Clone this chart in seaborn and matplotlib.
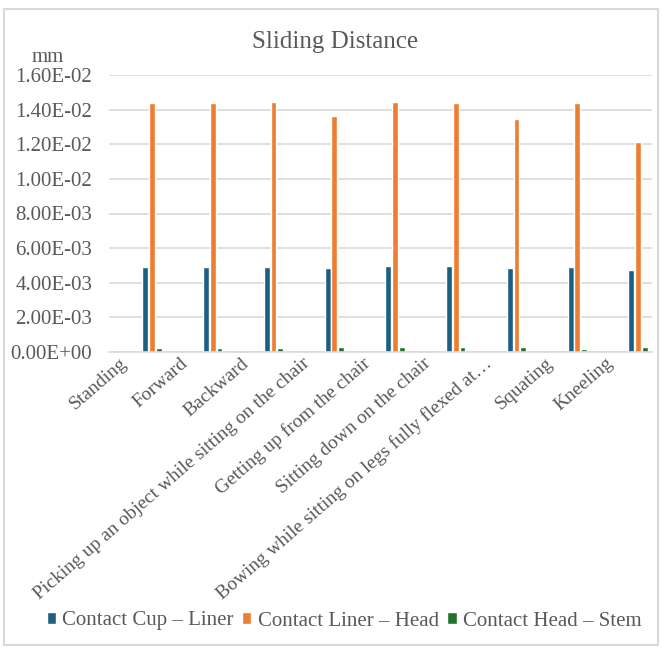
import matplotlib
matplotlib.use("Agg")
import matplotlib.pyplot as plt
import matplotlib.transforms as mtransforms
from matplotlib.patches import Rectangle
from matplotlib.ticker import FuncFormatter, MultipleLocator
import numpy as np
import pandas as pd
import seaborn as sns

# Activities (x categories)
activities = [
    "Standing",
    "Forward",
    "Backward",
    "Picking up an object while sitting on the chair",
    "Getting up from the chair",
    "Sitting down on the chair",
    "Bowing while sitting on legs fully flexed at\u2026",
    "Squating",
    "Kneeling",
]

# Sliding distance per contact pair (mm)
cup_liner = [0.00491, 0.00491, 0.00491, 0.00483, 0.00499, 0.00499, 0.00483, 0.00491, 0.00472]
liner_head = [0.01440, 0.01438, 0.01444, 0.01365, 0.01444, 0.01438, 0.01344, 0.01438, 0.01211]
head_stem = [0.00023, 0.00023, 0.00023, 0.00028, 0.00028, 0.00028, 0.00028, 0.00020, 0.00028]

series_names = ["Contact Cup \u2013 Liner", "Contact Liner \u2013 Head", "Contact Head \u2013 Stem"]
series_colors = ["#1c5f83", "#ed7d31", "#23732f"]

df = pd.DataFrame({
    "Activity": activities * 3,
    "Contact": np.repeat(series_names, len(activities)),
    "Distance": cup_liner + liner_head + head_stem,
})

sns.set_theme(style="white")
plt.rcParams["font.family"] = ["Liberation Serif", "DejaVu Serif"]
text_color = "#595959"
grid_color = "#d9d9d9"

W, H = 662, 648
fig = plt.figure(figsize=(W / 100, H / 100), dpi=100)
ax = fig.add_axes([109 / W, 1 - 352 / H, (652 - 109) / W, (352 - 75) / H])

sns.barplot(
    data=df, x="Activity", y="Distance", hue="Contact",
    order=activities, hue_order=series_names,
    palette=dict(zip(series_names, series_colors)),
    width=0.33, gap=0.12, saturation=1, ax=ax, legend=True,
)

handles, labels = ax.get_legend_handles_labels()
ax.get_legend().remove()

ax.set_ylim(0, 0.016)
ax.set_xlim(-0.708, 8.23)
ax.yaxis.set_major_locator(MultipleLocator(0.002))
ax.yaxis.set_major_formatter(FuncFormatter(lambda v, p: f"{v:.2E}"))
ax.set_xlabel("")
ax.set_ylabel("")

ax.grid(axis="y", color=grid_color, linewidth=1.2)
ax.set_axisbelow(True)
for s in ["left", "right", "top"]:
    ax.spines[s].set_visible(False)
ax.spines["bottom"].set_color(grid_color)
ax.spines["bottom"].set_linewidth(1.2)

ax.tick_params(axis="y", length=0, pad=12, labelsize=15, labelcolor=text_color)
ax.tick_params(axis="x", length=0, pad=0, labelsize=14, labelcolor=text_color)

shift = mtransforms.ScaledTranslation(-27 / 100, -9 / 100, fig.dpi_scale_trans)
for lbl in ax.get_xticklabels():
    lbl.set_rotation(41)
    lbl.set_rotation_mode("anchor")
    lbl.set_ha("right")
    lbl.set_va("center")
    lbl.set_transform(lbl.get_transform() + shift)

fig.text(335 / W, 1 - 42 / H, "Sliding Distance", ha="center", va="center",
         fontsize=18, color=text_color)
fig.text(48 / W, 1 - 57 / H, "mm", ha="center", va="center",
         fontsize=15, color=text_color)

fig.legend(handles, labels, loc="center", bbox_to_anchor=(344 / W, 1 - 621 / H),
           ncol=3, frameon=False, fontsize=15, labelcolor=text_color,
           handlelength=0.45, handleheight=0.45, handletextpad=0.3,
           columnspacing=0.4, borderaxespad=0)

fig.patches.append(Rectangle((4 / W, 1 - 645 / H), (658 - 4) / W, (645 - 9) / H,
                             transform=fig.transFigure, fill=False,
                             edgecolor=grid_color, linewidth=1.5))

fig.savefig("out.png", dpi=100)
